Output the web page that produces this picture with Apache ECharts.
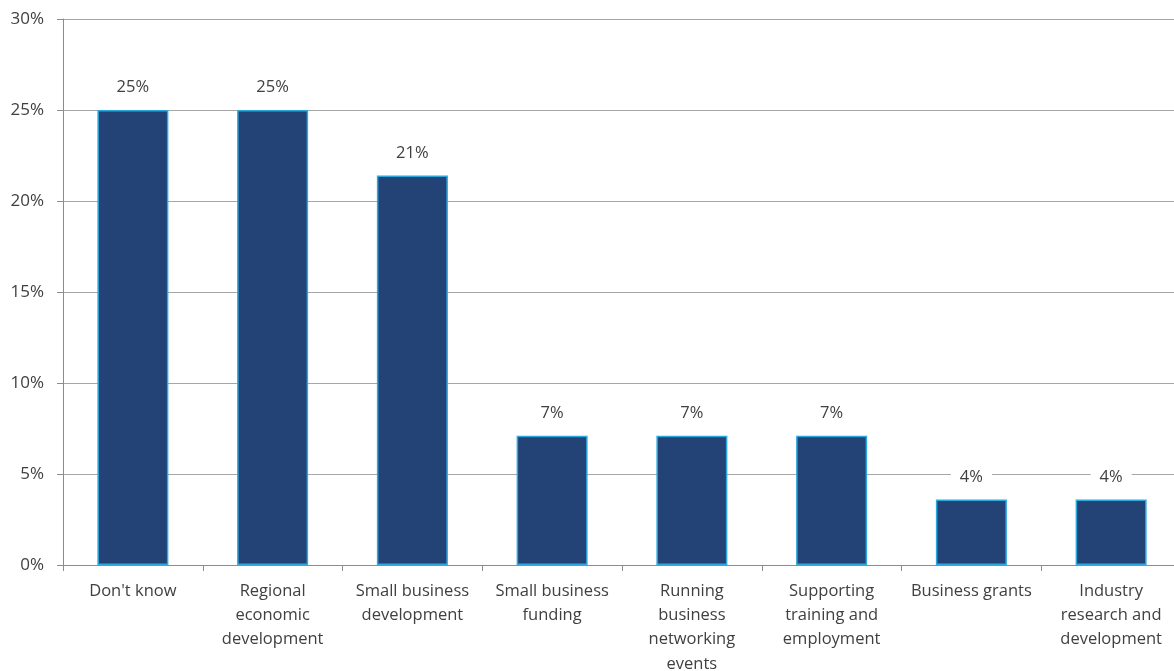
<!DOCTYPE html>
<html>
<head>
<meta charset="utf-8">
<script src="https://cdn.jsdelivr.net/npm/echarts@6/dist/echarts.min.js"></script>
<style>
  html, body { margin: 0; padding: 0; background: #ffffff; }
  #chart { width: 1174px; height: 671px; }
</style>
</head>
<body>
<div id="chart"></div>
<script>
// Survey responses: share of respondents per area (percent)
const categories = [
  "Don't know",
  "Regional\neconomic\ndevelopment",
  "Small business\ndevelopment",
  "Small business\nfunding",
  "Running\nbusiness\nnetworking\nevents",
  "Supporting\ntraining and\nemployment",
  "Business grants",
  "Industry\nresearch and\ndevelopment"
];
const shares = [25, 25, 21.4, 7.1, 7.1, 7.1, 3.6, 3.6];
const yTicks = [0, 5, 10, 15, 20, 25, 30];

const FONT = "'Open Sans', 'Liberation Sans', sans-serif";
const TEXT = '#404040';

const chart = echarts.init(document.getElementById('chart'), null, { renderer: 'canvas' });
chart.setOption({
  animation: false,
  backgroundColor: '#ffffff',
  grid: {
    left: 63, top: 19, width: 1118, height: 546,
    containLabel: false, outerBoundsMode: 'none'
  },
  xAxis: {
    type: 'category',
    data: categories,
    axisLine: { show: true, lineStyle: { color: '#8c8c8c', width: 1 } },
    axisTick: { show: true, alignWithLabel: false, length: 6, lineStyle: { color: '#8c8c8c' } },
    axisLabel: {
      interval: 0, margin: 14, color: TEXT, fontFamily: FONT, fontSize: 16.5,
      lineHeight: 24.3, align: 'center'
    }
  },
  yAxis: {
    type: 'value',
    min: yTicks[0],
    max: yTicks[yTicks.length - 1],
    interval: yTicks[1] - yTicks[0],
    axisLine: { show: true, lineStyle: { color: '#8c8c8c', width: 1 } },
    axisTick: { show: true, length: 6, lineStyle: { color: '#8c8c8c' } },
    axisLabel: {
      margin: 19, color: TEXT, fontFamily: FONT, fontSize: 17,
      formatter: v => v + '%'
    },
    splitLine: { show: true, lineStyle: { color: '#a6a6a6', width: 1 } }
  },
  series: [{
    type: 'bar',
    data: shares,
    barWidth: 71,
    itemStyle: { color: '#234275', borderColor: '#29a9e0', borderWidth: 1.5 },
    label: {
      show: true, position: 'top', distance: 14,
      color: TEXT, fontFamily: FONT, fontSize: 16.5,
      backgroundColor: '#ffffff', padding: [0, 9],
      formatter: p => Math.round(p.value) + '%'
    }
  }]
});
</script>
</body>
</html>
